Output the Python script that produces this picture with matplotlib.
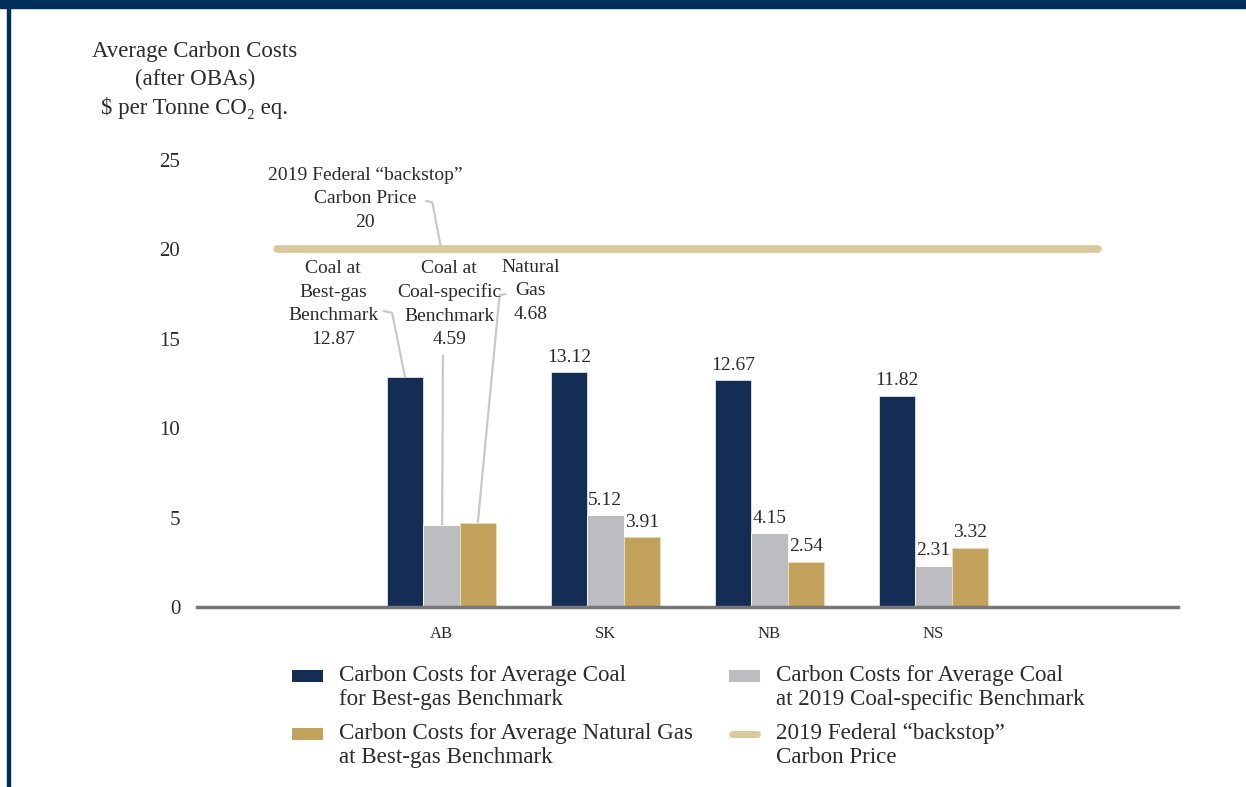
import matplotlib.pyplot as plt
import numpy as np
from matplotlib.legend_handler import HandlerBase
from matplotlib.lines import Line2D
from matplotlib.patches import Patch, Rectangle

plt.rcParams['font.family'] = ['Liberation Serif', 'DejaVu Serif']

# 各省平均碳成本（每吨CO2当量）
provinces = ["AB", "SK", "NB", "NS"]
coal_best_gas = [12.87, 13.12, 12.67, 11.82]
coal_specific = [4.59, 5.12, 4.15, 2.31]
natural_gas = [4.68, 3.91, 2.54, 3.32]
backstop_price = 20

navy = "#142d55"
grey = "#bcbdc1"
gold = "#c2a25b"
beige = "#dcc99b"
leader = "#c8c8c8"
text_c = "#2b2b2b"


class RaisedHandler(HandlerBase):
    """图例色块对齐到第一行文字"""

    def __init__(self, dy=0.5, **kw):
        super().__init__(**kw)
        self.dy = dy

    def create_artists(self, legend, orig_handle, xdescent, ydescent, width, height,
                       fontsize, trans):
        y0 = -ydescent + self.dy * fontsize
        if isinstance(orig_handle, Line2D):
            r = orig_handle.get_linewidth() / 2
            art = Line2D([-xdescent + r, -xdescent + width - r], [y0 + height / 2] * 2,
                         color=orig_handle.get_color(), lw=orig_handle.get_linewidth(),
                         solid_capstyle="round")
        else:
            art = Rectangle((-xdescent, y0), width, height,
                            facecolor=orig_handle.get_facecolor(), edgecolor="none")
        art.set_transform(trans)
        return [art]


fig = plt.figure(figsize=(12.46, 7.87), dpi=100)
ax = fig.add_axes([0.158, 0.2287, 0.7874, 0.568])

# 顶部色条和左边框
fig.patches.append(Rectangle((0, 1 - 8 / 787), 1, 8 / 787, transform=fig.transFigure,
                             color="#00305a", zorder=0))
fig.patches.append(Rectangle((7 / 1246, 0), 3 / 1246, 1, transform=fig.transFigure,
                             color="#00305a", zorder=0))

x = np.arange(len(provinces))
w = 0.222
ax.bar(x - w, coal_best_gas, w, color=navy, edgecolor="#dfe3ea", linewidth=0.6, zorder=2)
ax.bar(x, coal_specific, w, color=grey, edgecolor="white", linewidth=0.6, zorder=2)
ax.bar(x + w, natural_gas, w, color=gold, edgecolor="#eadcb8", linewidth=0.6, zorder=2)

ax.plot([-1, 4], [backstop_price, backstop_price], color=beige, lw=5.5,
        solid_capstyle="round", zorder=3)

ax.set_xlim(-1.49, 4.49)
ax.set_ylim(0, 25)
ax.set_yticks(range(0, 26, 5))
ax.set_xticks(x)
ax.set_xticklabels(provinces)
for s in ["top", "right", "left"]:
    ax.spines[s].set_visible(False)
ax.spines["bottom"].set_color("#77777b")
ax.spines["bottom"].set_linewidth(2.5)
ax.tick_params(axis="y", length=0, pad=12, labelsize=15, labelcolor=text_c)
ax.tick_params(axis="x", length=0, pad=14, labelsize=12, labelcolor=text_c)

# 数值标签（AB 用引线标注）
fs = 14
for i in range(1, len(provinces)):
    ax.text(x[i] - w, coal_best_gas[i] + 0.35, f"{coal_best_gas[i]:.2f}",
            ha="center", va="bottom", fontsize=fs, color=text_c)
    ax.text(x[i], coal_specific[i] + 0.35, f"{coal_specific[i]:.2f}",
            ha="center", va="bottom", fontsize=fs, color=text_c)
    ax.text(x[i] + w, natural_gas[i] + 0.35, f"{natural_gas[i]:.2f}",
            ha="center", va="bottom", fontsize=fs, color=text_c)

ls = 1.5
ax.text(-0.659, 16.95, f"Coal at\nBest-gas\nBenchmark\n{coal_best_gas[0]:.2f}",
        ha="center", va="center", fontsize=fs, color=text_c, linespacing=ls)
ax.plot([-0.35, -0.30, -w], [16.55, 16.45, coal_best_gas[0]], color=leader, lw=1.6, zorder=1)

ax.text(0.049, 16.95, f"Coal at\nCoal-specific\nBenchmark\n{coal_specific[0]:.2f}",
        ha="center", va="center", fontsize=fs, color=text_c, linespacing=ls)
ax.plot([0.01, 0.005], [14.05, coal_specific[0]], color=leader, lw=1.6, zorder=1)

ax.text(0.543, 17.7, f"Natural\nGas\n{natural_gas[0]:.2f}",
        ha="center", va="center", fontsize=fs, color=text_c, linespacing=ls)
ax.plot([0.39, 0.355, w], [17.5, 17.44, natural_gas[0]], color=leader, lw=1.6, zorder=1)

ax.text(-0.466, 22.82, f"2019 Federal \u201cbackstop\u201d\nCarbon Price\n{backstop_price}",
        ha="center", va="center", fontsize=fs, color=text_c, linespacing=ls)
ax.plot([-0.09, -0.055, 0.0], [22.7, 22.63, backstop_price], color=leader, lw=1.6, zorder=1)

fig.text(0.1565, 0.948, "Average Carbon Costs\n(after OBAs)\n$ per Tonne CO\u2082 eq.",
         ha="center", va="top", fontsize=16.5, color=text_c, linespacing=1.42)

handles = [
    Patch(color=navy),
    Patch(color=gold),
    Patch(color=grey),
    Line2D([], [], color=beige, lw=5, solid_capstyle="round"),
]
labels = [
    "Carbon Costs for Average Coal\nfor Best-gas Benchmark",
    "Carbon Costs for Average Natural Gas\nat Best-gas Benchmark",
    "Carbon Costs for Average Coal\nat 2019 Coal-specific Benchmark",
    "2019 Federal \u201cbackstop\u201d\nCarbon Price",
]
hm = {h: RaisedHandler(dy=0.5) for h in handles}
leg = fig.legend(handles, labels, ncol=2, loc="upper left", bbox_to_anchor=(292 / 1246, 0.155),
                 frameon=False, fontsize=16.6, handlelength=1.35, handleheight=0.4,
                 columnspacing=1.55, labelspacing=0.55, handletextpad=0.7, borderpad=0,
                 borderaxespad=0, handler_map=hm)
for t in leg.get_texts():
    t.set_color(text_c)
    t.set_linespacing(1.2)

plt.savefig("out.png", dpi=100)
